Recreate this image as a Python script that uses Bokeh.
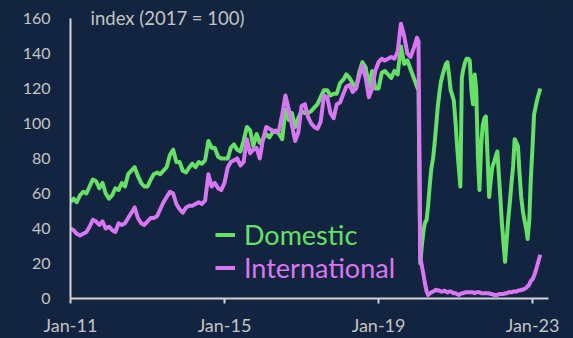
import pandas as pd
from bokeh.plotting import figure
from bokeh.models import (FixedTicker, DatetimeTickFormatter, Legend, LegendItem,
                          Label, ColumnDataSource, Range1d)
from bokeh.embed import file_html
from bokeh.resources import INLINE

# ---- data -------------------------------------------------------------
monthly_start = "2011-01-01"
monthly_end = "2019-12-01"
semi_start = "2020-01-01"
semi_end = "2023-03-15"

domestic_2011_2019 = [
    55, 57, 55, 59, 61, 60, 64, 68, 67, 63, 66, 60,
    57, 59, 63, 62, 66, 64, 71, 73, 75, 70, 66, 64,
    64, 68, 71, 72, 71, 73, 75, 82, 85, 78, 78, 73,
    72, 75, 77, 75, 78, 77, 79, 90, 86, 86, 81, 80,
    80, 80, 86, 88, 85, 84, 90, 98, 96, 87, 94, 89,
    91, 94, 92, 95, 96, 94, 91, 108, 102, 106, 98, 103,
    107, 106, 106, 107, 109, 111, 115, 119, 119, 116, 117, 117,
    123, 125, 128, 126, 123, 120, 129, 135, 132, 121, 130, 120,
    120, 129, 130, 128, 126, 130, 128, 144, 134, 136, 131, 126,
]
domestic_2020_2023 = [
    121, 119, 20, 30, 38, 43, 45, 53, 65, 74, 80, 88,
    99, 109, 118, 124, 128, 131, 134, 135, 127, 119, 116, 113,
    100, 87, 74, 64, 126, 131, 135, 137, 137, 136, 118, 111,
    128, 120, 80, 62, 88, 99, 103, 104, 80, 58, 68, 75,
    78, 81, 84, 71, 58, 44, 31, 21, 34, 45, 56, 66,
    76, 91, 89, 87, 70, 58, 50, 45, 40, 34, 45, 68,
    87, 105, 110, 114, 117, 120,
]
international_2011_2019 = [
    40, 39, 37, 36, 37, 38, 41, 45, 44, 42, 44, 40,
    41, 39, 38, 43, 42, 43, 46, 49, 52, 46, 43, 42,
    44, 46, 46, 47, 51, 55, 58, 61, 60, 54, 51, 49,
    52, 53, 53, 54, 55, 54, 56, 71, 64, 66, 63, 62,
    66, 75, 78, 79, 80, 76, 78, 91, 83, 85, 86, 80,
    91, 98, 97, 96, 95, 96, 105, 116, 108, 99, 90, 95,
    110, 111, 104, 100, 98, 97, 101, 116, 115, 106, 103, 111,
    112, 117, 121, 122, 118, 120, 127, 133, 126, 115, 120, 130,
    135, 137, 136, 137, 138, 137, 141, 157, 150, 140, 138, 143,
]
international_2020_2023 = [
    149, 147, 23, 19, 14, 9, 4, 2, 3, 3.5, 4, 4.5,
    5, 4.5, 4.5, 4, 4, 4.5, 4, 3.5, 4, 4, 3.5, 3,
    3, 2.5, 2, 2.5, 3, 3, 3.5, 3.5, 3.5, 3.5, 3.5, 3.5,
    3, 3.5, 3.5, 3.5, 3, 3, 3, 3, 3, 3, 2.5, 2.5,
    2, 2, 2, 2.5, 2.5, 2.5, 2.5, 3, 3, 3.5, 3.5, 3.5,
    4, 4, 4, 4.5, 4.5, 5, 5, 5.5, 6, 7, 8, 10,
    11, 13, 16, 19, 22, 25,
]
x_tick_dates = ["2011-01-01", "2015-01-01", "2019-01-01", "2023-01-01"]
y_ticks = [0, 20, 40, 60, 80, 100, 120, 140, 160]
series_names = ["Domestic", "International"]
title_text = "index (2017 = 100)"

# ---- build -------------------------------------------------------------
dates = (list(pd.date_range(monthly_start, monthly_end, freq="MS")) +
         list(pd.date_range(semi_start, semi_end, freq="SMS")))
domestic = domestic_2011_2019 + domestic_2020_2023
international = international_2011_2019 + international_2020_2023
n = min(len(dates), len(domestic), len(international))
src = ColumnDataSource(dict(date=dates[:n], dom=domestic[:n], intl=international[:n]))

BG = "#12243f"
GREEN = "#66e066"
PINK = "#d977f2"
AXIS = "#d4d4d4"
LABEL = "#c4c4c4"
FONT = "Lato"

def ms(s):
    return pd.Timestamp(s).value / 1e6

p = figure(width=573, height=338, x_axis_type="datetime",
           x_range=Range1d(ms("2011-01-01"), ms("2023-06-01")),
           y_range=Range1d(0, 166.24),
           output_backend="svg", toolbar_location=None,
           min_border_left=70, min_border_right=25,
           min_border_top=7, min_border_bottom=38,
           background_fill_color=BG, border_fill_color=BG,
           outline_line_color=None)
p.xgrid.visible = False
p.ygrid.visible = False

r_dom = p.line("date", "dom", source=src, line_color=GREEN, line_width=4,
               line_join="round")
r_int = p.line("date", "intl", source=src, line_color=PINK, line_width=4,
               line_join="round")

xa = p.xaxis[0]
xa.ticker = FixedTicker(ticks=[ms(d) for d in x_tick_dates])
fmt = "%b-%y"
xa.formatter = DatetimeTickFormatter(years=fmt, months=fmt, days=fmt, hours=fmt,
                                     minutes=fmt, seconds=fmt, milliseconds=fmt,
                                     microseconds=fmt, hourmin=fmt, minsec=fmt)
xa.major_tick_out = 5
xa.major_tick_in = 0
xa.minor_tick_out = 0
xa.minor_tick_in = 0
xa.major_label_standoff = 10
xa.major_label_text_font_size = "18px"

ya = p.yaxis[0]
ya.ticker = FixedTicker(ticks=y_ticks)
ya.bounds = (0, 160)
ya.major_tick_out = 0
ya.major_tick_in = 0
ya.minor_tick_out = 0
ya.minor_tick_in = 0
ya.major_label_standoff = 20
ya.major_label_text_font_size = "16px"

for ax in (xa, ya):
    ax.axis_line_color = AXIS
    ax.axis_line_width = 2
    ax.major_tick_line_color = AXIS
    ax.major_tick_line_width = 2
    ax.major_label_text_color = LABEL
    ax.major_label_text_font = FONT

p.add_layout(Label(x=ms("2011-07-10"), y=160.5, text=title_text,
                   text_color=LABEL, text_font=FONT, text_font_size="18.5px",
                   text_baseline="middle"))

for name, rend, col, loc in ((series_names[0], r_dom, GREEN, (145, 47)),
                             (series_names[1], r_int, PINK, (145, 14))):
    lg = Legend(items=[LegendItem(label=name, renderers=[rend])], location=loc,
                background_fill_alpha=0, border_line_color=None,
                padding=0, margin=0, spacing=0,
                label_text_color=col, label_text_font=FONT,
                label_text_font_size="27px", glyph_width=20, glyph_height=27,
                label_height=27, label_standoff=9)
    p.add_layout(lg)

html = file_html(p, INLINE)
html = html.replace("<head>", "<head><style>html,body{background:%s;margin:0;}</style>" % BG, 1)
open("out.html", "w").write(html)
